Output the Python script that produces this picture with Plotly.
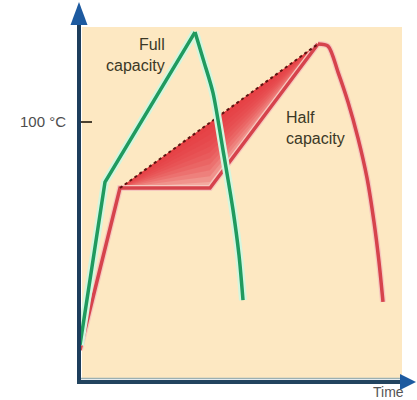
import plotly.graph_objects as go

# ---- data (time in arbitrary units, temperature in °C) ----
full_time = [0.1, 2.6, 11.6, 12.5, 13.4, 14.4, 15.4, 16.0, 16.4]
full_temp = [14.2, 76.9, 134.6, 123.1, 111.2, 89.2, 66.2, 48.8, 31.5]
full_peak = 2  # index of the peak

half_time = [0.1, 4.1, 13.1, 23.9, 24.9, 25.9, 26.9, 27.9, 28.8, 29.5, 30.0, 30.4]
half_temp = [12.3, 74.6, 74.6, 130.0, 129.2, 119.2, 107.7, 93.8, 78.5, 61.5, 46.2, 30.8]
half_peak = 3

# straight "ideal" ramp for half capacity (dashed upper edge of shaded area)
ramp_time = [4.1, 23.9]
ramp_temp = [74.6, 130.0]

tick_vals = [100]
tick_text = ["100 °C"]

labels = ["Full<br>capacity", "Half<br>capacity", "Time"]

# ---- geometry helpers (pixels -> paper) ----
W, H = 417, 400
ML, MR, MT, MB = 79, 2, 2, 18
PW, PH = W - ML - MR, H - MT - MB
FONT = "Liberation Sans, Arial"


def fx(px):
    return (px - ML) / PW


def fy(py):
    return (H - MB - py) / PH


fig = go.Figure()


def add_line(x, y, color, width, shape="linear", dash=None):
    fig.add_trace(go.Scatter(x=x, y=y, mode="lines",
                             line=dict(color=color, width=width, shape=shape,
                                       smoothing=0.8, dash=dash),
                             hoverinfo="skip", showlegend=False))


# shaded area between ramp and half-capacity path (triangle A-B-C)
A = (ramp_time[0], ramp_temp[0])
B = (ramp_time[1], ramp_temp[1])
C = (half_time[2], half_temp[2])
s = (C[0] - A[0]) / (B[0] - A[0])
F = (C[0], A[1] + s * (B[1] - A[1]))

fig.add_trace(go.Scatter(
    x=[A[0], B[0], C[0], A[0]], y=[A[1], B[1], C[1], A[1]],
    mode="lines", fill="toself", fillcolor="#f3aaa0",
    line=dict(width=0), hoverinfo="skip", showlegend=False))
n_layers = 10
for i in range(n_layers):
    f = 1 - (i + 1) / (n_layers + 1)
    ck = (F[0] + f * (C[0] - F[0]), F[1] + f * (C[1] - F[1]))
    fig.add_trace(go.Scatter(
        x=[A[0], B[0], ck[0], A[0]], y=[A[1], B[1], ck[1], A[1]],
        mode="lines", fill="toself", fillcolor="rgba(230,55,60,0.2)",
        line=dict(width=0), hoverinfo="skip", showlegend=False))

# half capacity curve: straight heating segments, curved cooling
hr_x, hr_y = half_time[:half_peak + 1], half_temp[:half_peak + 1]
hd_x, hd_y = half_time[half_peak:], half_temp[half_peak:]
add_line(hr_x, hr_y, "#f6c8bf", 6)
add_line(hd_x, hd_y, "#f6c8bf", 6, "spline")
add_line(hr_x, hr_y, "#d6434c", 3.5)
add_line(hd_x, hd_y, "#d6434c", 3.5, "spline")
# dashed ramp edge
add_line(ramp_time, ramp_temp, "#5e1410", 2, dash="3px,3px")

# full capacity curve
fr_x, fr_y = full_time[:full_peak + 1], full_temp[:full_peak + 1]
fd_x, fd_y = full_time[full_peak:], full_temp[full_peak:]
add_line(fr_x, fr_y, "#d3f6df", 8)
add_line(fd_x, fd_y, "#d3f6df", 8, "spline")
add_line(fr_x, fr_y, "#1f9a5e", 3.5)
add_line(fd_x, fd_y, "#1f9a5e", 3.5, "spline")

shapes = [
    # background panel
    dict(type="rect", xref="paper", yref="paper", x0=fx(82), x1=fx(402),
         y0=fy(378), y1=fy(27), fillcolor="#fde8c2", line=dict(width=0),
         layer="below"),
    # axis shadow line
    dict(type="line", xref="paper", yref="paper", x0=fx(81), x1=fx(402),
         y0=fy(378.5), y1=fy(378.5), line=dict(color="#9cb0b2", width=1.5)),
    # axes
    dict(type="line", xref="paper", yref="paper", x0=fx(79), x1=fx(79),
         y0=fy(384), y1=fy(22), line=dict(color="#1d3d5c", width=4)),
    dict(type="line", xref="paper", yref="paper", x0=fx(77), x1=fx(402),
         y0=fy(382), y1=fy(382), line=dict(color="#22445f", width=4)),
    # arrow heads
    dict(type="path", xref="paper", yref="paper",
         path=f"M {fx(79)} {fy(2)} L {fx(87.5)} {fy(25)} L {fx(70.5)} {fy(25)} Z",
         fillcolor="#1d5aa0", line=dict(width=0)),
    dict(type="path", xref="paper", yref="paper",
         path=f"M {fx(416)} {fy(382)} L {fx(400)} {fy(374)} L {fx(400)} {fy(390)} Z",
         fillcolor="#1d5aa0", line=dict(width=0)),
]

annotations = [
    dict(text=labels[0], x=8.8, y=125.8, xref="x", yref="y", xanchor="right",
         yanchor="middle", align="right", showarrow=False,
         font=dict(family=FONT, size=16, color="#3b3826")),
    dict(text=labels[1], x=20.5, y=97.7, xref="x", yref="y", xanchor="left",
         yanchor="middle", align="left", showarrow=False,
         font=dict(family=FONT, size=16, color="#3b3826")),
    dict(text=labels[2], x=fx(388), y=fy(392), xref="paper", yref="paper",
         xanchor="center", yanchor="middle", showarrow=False,
         font=dict(family=FONT, size=14, color="#555555")),
]

fig.update_layout(
    width=W, height=H,
    margin=dict(l=ML, r=MR, t=MT, b=MB),
    paper_bgcolor="white", plot_bgcolor="rgba(0,0,0,0)",
    shapes=shapes, annotations=annotations,
    xaxis=dict(range=[0, PW / 10], visible=False, fixedrange=True),
    yaxis=dict(range=[0, PH / 2.6], showgrid=False, zeroline=False,
               showline=False, tickvals=tick_vals, ticktext=tick_text,
               ticks="inside", ticklen=13, tickwidth=2, tickcolor="#4a4030",
               ticklabelstandoff=12, fixedrange=True,
               tickfont=dict(family=FONT, size=15, color="#4d4d4d")),
)

fig.write_html(
    "out.html",
    config={"displayModeBar": False, "staticPlot": True},
    post_script="document.body.style.margin='0';document.body.style.overflow='hidden';",
)
